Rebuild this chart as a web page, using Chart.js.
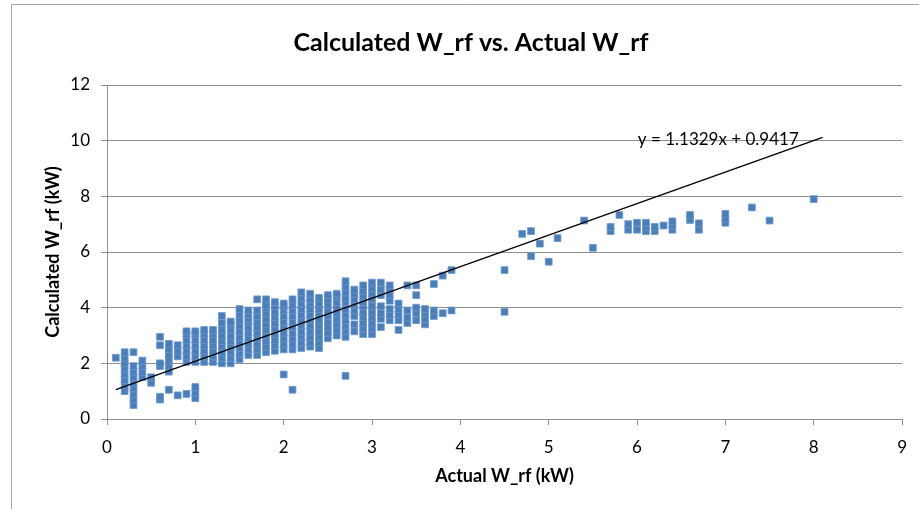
<!DOCTYPE html>
<html>
<head>
<meta charset="utf-8">
<script src="https://cdn.jsdelivr.net/npm/chart.js@4.4.1/dist/chart.umd.min.js"></script>
<style>
  html, body { margin: 0; padding: 0; background: #fff; }
  #wrap { position: relative; width: 919px; height: 509px; }
</style>
</head>
<body>
<div id="wrap"><canvas id="chart"></canvas></div>
<script>
// Actual W_rf values (kW), one per column of points
const actualW = [0.1, 0.2, 0.3, 0.4, 0.5, 0.6, 0.7, 0.8, 0.9, 1.0,
  1.1, 1.2, 1.3, 1.4, 1.5, 1.6, 1.7, 1.8, 1.9, 2.0,
  2.1, 2.2, 2.3, 2.4, 2.5, 2.6, 2.7, 2.8, 2.9, 3.0,
  3.1, 3.2, 3.3, 3.4, 3.5, 3.6, 3.7, 3.8, 3.9,
  4.5, 4.7, 4.8, 4.9, 5.0, 5.1, 5.4, 5.5, 5.7, 5.8, 5.9,
  6.0, 6.1, 6.2, 6.3, 6.4, 6.6, 6.7, 7.0, 7.3, 7.5, 8.0];

// Calculated W_rf values (kW) read for each column above
const calculatedW = [
  [2.2],
  [1.0, 1.2, 1.4, 1.6, 1.8, 2.0, 2.2, 2.4],
  [0.5, 0.7, 0.9, 1.1, 1.3, 1.5, 1.7, 1.9, 2.4],
  [1.5, 1.7, 1.9, 2.1],
  [1.3, 1.5],
  [0.7, 0.8, 1.9, 2.0, 2.65, 2.95],
  [1.05, 1.7, 1.9, 2.1, 2.3, 2.5, 2.7],
  [0.85, 2.25, 2.45, 2.65],
  [0.9, 2.05, 2.25, 2.45, 2.65, 2.85, 3.05, 3.15],
  [0.75, 0.95, 1.15, 2.05, 2.25, 2.45, 2.65, 2.85, 3.05, 3.15],
  [2.05, 2.25, 2.45, 2.65, 2.85, 3.05, 3.2],
  [2.05, 2.25, 2.45, 2.65, 2.85, 3.05, 3.2],
  [2.0, 2.2, 2.4, 2.6, 2.8, 3.0, 3.2, 3.45, 3.7],
  [2.0, 2.2, 2.4, 2.6, 2.8, 3.0, 3.2, 3.4, 3.5],
  [2.15, 2.35, 2.55, 2.75, 2.95, 3.15, 3.35, 3.55, 3.75, 3.95],
  [2.3, 2.5, 2.7, 2.9, 3.1, 3.3, 3.5, 3.6, 3.75, 3.9],
  [2.3, 2.5, 2.7, 2.9, 3.1, 3.3, 3.5, 3.7, 3.9, 4.3],
  [2.4, 2.6, 2.8, 3.0, 3.2, 3.4, 3.6, 3.8, 4.0, 4.1, 4.3],
  [2.45, 2.65, 2.85, 3.05, 3.25, 3.45, 3.65, 3.85, 4.05, 4.2],
  [1.6, 2.5, 2.7, 2.9, 3.1, 3.3, 3.5, 3.7, 3.9, 4.05, 4.15],
  [1.05, 2.5, 2.7, 2.9, 3.1, 3.3, 3.5, 3.7, 3.9, 4.1, 4.3],
  [2.55, 2.75, 2.95, 3.15, 3.35, 3.55, 3.75, 3.95, 4.15, 4.35, 4.55],
  [2.6, 2.75, 2.95, 3.15, 3.35, 3.55, 3.75, 3.95, 4.15, 4.3, 4.5],
  [2.55, 2.75, 2.95, 3.15, 3.35, 3.55, 3.75, 3.95, 4.15, 4.35],
  [2.9, 3.1, 3.3, 3.5, 3.7, 3.9, 4.1, 4.3, 4.45],
  [3.0, 3.2, 3.4, 3.6, 3.8, 4.0, 4.2, 4.4, 4.5],
  [1.55, 2.95, 3.15, 3.35, 3.55, 3.75, 3.95, 4.2, 4.35, 4.55, 4.75, 4.95],
  [3.15, 3.4, 3.7, 3.9, 4.1, 4.3, 4.5, 4.65],
  [3.05, 3.25, 3.45, 3.65, 3.85, 4.05, 4.2, 4.4, 4.6, 4.8],
  [3.05, 3.25, 3.45, 3.65, 3.85, 4.05, 4.3, 4.5, 4.7, 4.9],
  [3.3, 3.6, 3.8, 4.05, 4.45, 4.65, 4.9],
  [3.55, 3.75, 3.95, 4.25, 4.45, 4.65, 4.8],
  [3.2, 3.55, 3.75, 3.95, 4.15],
  [3.45, 3.65, 3.9, 4.8],
  [3.55, 3.8, 4.0, 4.45, 4.8],
  [3.4, 3.6, 3.8, 3.95],
  [3.7, 3.9, 4.85],
  [3.8, 5.15],
  [3.9, 5.35],
  [3.85, 5.35],
  [6.65],
  [5.85, 6.75],
  [6.3],
  [5.65],
  [6.5],
  [7.13],
  [6.15],
  [6.75, 6.9],
  [7.33],
  [6.8, 7.0],
  [6.8, 7.05],
  [6.75, 6.9, 7.05],
  [6.75, 6.9],
  [6.95],
  [6.8, 6.95, 7.1],
  [7.15, 7.33],
  [6.8, 7.03],
  [7.05, 7.2, 7.37],
  [7.6],
  [7.13],
  [7.9]
];

// Linear trendline shown on the chart
const trendSlope = 1.1329;
const trendIntercept = 0.9417;
const trendRange = [0.1, 8.1];
const trendLabel = 'y = 1.1329x + 0.9417';

const xTicks = [0, 1, 2, 3, 4, 5, 6, 7, 8, 9];
const yTicks = [0, 2, 4, 6, 8, 10, 12];

const FONT = 'Lato, "Open Sans", sans-serif';
const GRID = '#8e8e8e';

const points = actualW.flatMap((x, i) => calculatedW[i].map(y => ({ x: x, y: y })));
const trendPoints = trendRange.map(x => ({ x: x, y: trendSlope * x + trendIntercept }));

// grey frame of the chart box and the trendline equation
const extras = {
  id: 'extras',
  beforeDraw(chart) {
    const ctx = chart.ctx;
    ctx.save();
    ctx.strokeStyle = '#a6a6a6';
    ctx.lineWidth = 1;
    ctx.beginPath();
    ctx.moveTo(11.5, 509);
    ctx.lineTo(11.5, 4.5);
    ctx.lineTo(919, 4.5);
    ctx.stroke();
    ctx.restore();
  },
  afterDatasetsDraw(chart) {
    const ctx = chart.ctx;
    const x = chart.scales.x.getPixelForValue(6.92);
    const y = chart.scales.y.getPixelForValue(10.03);
    ctx.save();
    ctx.font = '17px ' + FONT;
    ctx.fillStyle = '#000';
    ctx.textAlign = 'center';
    ctx.textBaseline = 'middle';
    ctx.fillText(trendLabel, x, y);
    ctx.restore();
  }
};

new Chart(document.getElementById('chart').getContext('2d'), {
  type: 'scatter',
  data: {
    datasets: [{
      type: 'line',
      label: 'Linear (Calculated W_rf)',
      data: trendPoints,
      borderColor: '#000000',
      borderWidth: 1.3,
      pointRadius: 0,
      fill: false
    }, {
      label: 'Calculated W_rf',
      data: points,
      pointStyle: 'rect',
      pointRadius: 4.8,
      backgroundColor: '#4a7ebb',
      borderColor: '#6c97cc',
      borderWidth: 0.8
    }]
  },
  options: {
    responsive: true,
    maintainAspectRatio: false,
    animation: false,
    layout: {
      padding: { left: 39, right: 16, top: 0, bottom: 0 }
    },
    plugins: {
      legend: { display: false },
      tooltip: { enabled: false },
      title: {
        display: true,
        text: 'Calculated W_rf vs. Actual W_rf',
        color: '#000',
        font: { family: FONT, size: 25, weight: 'bold' },
        padding: { top: 28, bottom: 27 }
      }
    },
    scales: {
      x: {
        type: 'linear',
        min: 0,
        max: 9,
        afterBuildTicks: scale => { scale.ticks = xTicks.map(v => ({ value: v })); },
        afterFit: scale => { scale.height = 90; },
        grid: {
          drawOnChartArea: false,
          drawTicks: true,
          tickLength: 6,
          color: GRID
        },
        border: { color: GRID, width: 1 },
        ticks: {
          color: '#000',
          font: { family: FONT, size: 17 },
          padding: 12,
          maxRotation: 0
        },
        title: {
          display: true,
          text: 'Actual W_rf (kW)',
          color: '#000',
          font: { family: FONT, size: 18, weight: 'bold' },
          padding: { top: 0, bottom: 22 }
        }
      },
      y: {
        type: 'linear',
        min: 0,
        max: 12,
        afterBuildTicks: scale => { scale.ticks = yTicks.map(v => ({ value: v })); },
        afterFit: scale => { scale.width = 68; },
        grid: {
          drawTicks: true,
          tickLength: 6,
          color: GRID
        },
        border: { color: GRID, width: 1 },
        ticks: {
          color: '#000',
          font: { family: FONT, size: 17 },
          padding: 11
        },
        title: {
          display: true,
          text: 'Calculated W_rf (kW)',
          color: '#000',
          font: { family: FONT, size: 18, weight: 'bold' },
          padding: { top: 3, bottom: 0 }
        }
      }
    }
  },
  plugins: [extras]
});
</script>
</body>
</html>
